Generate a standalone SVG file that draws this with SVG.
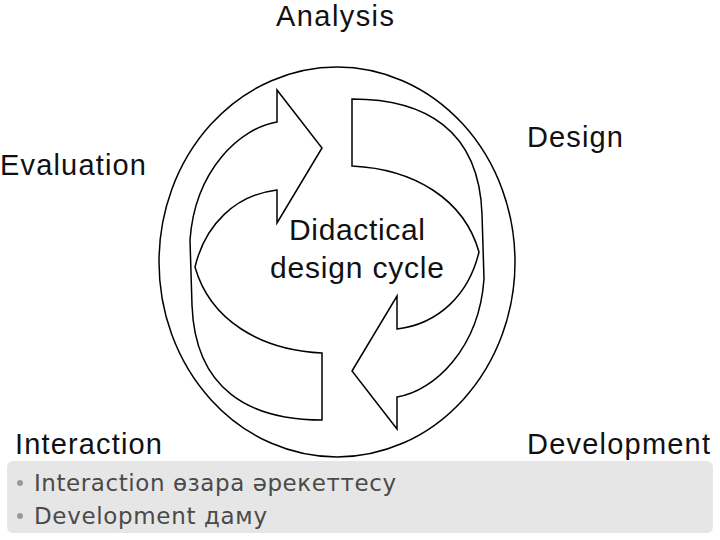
<svg xmlns="http://www.w3.org/2000/svg" width="720" height="540" viewBox="0 0 720 540">
<style>
.l{font-family:"Liberation Sans",Arial,sans-serif;font-size:29px;fill:#111}
.c{font-size:30px}
.s{fill:#fff;stroke:#000;stroke-width:1.5}
.b{font-family:"DejaVu Sans",sans-serif;font-size:23px;fill:#4a4a4a}
</style>
<rect width="720" height="540" fill="#fff"/>
<g id="bg"><rect x="7" y="461" width="706" height="72" rx="6" fill="#e6e6e6"/></g>
<g id="circle"><ellipse class="s" cx="337" cy="262" rx="178" ry="195"/></g>
<g id="connectors">
<path id="arrowL" class="s" d="M322,420 C250,420 195,390 192,305 L190,240 C195,170 240,128 277,122 L277,90 L322,148 L277,223 L277,190 C235,195 205,225 195,267 C210,320 260,350 322,353 Z"/>
<use href="#arrowL" transform="rotate(180 337 259.5)"/>
</g>
<g id="center"><text class="l c" x="357" y="240" text-anchor="middle" textLength="136">Didactical</text><text class="l c" x="357" y="278" text-anchor="middle" textLength="174">design cycle</text></g>
<g id="analysis"><text class="l" x="335" y="26" text-anchor="middle" textLength="118">Analysis</text></g>
<g id="design"><text class="l" x="527" y="147" textLength="96">Design</text></g>
<g id="evaluation"><text class="l" x="0" y="175" textLength="146">Evaluation</text></g>
<g id="interaction"><text class="l" x="15" y="454" textLength="147">Interaction</text></g>
<g id="development"><text class="l" x="527" y="454" textLength="183">Development</text></g>
<g id="notes">
<circle cx="20" cy="483" r="3" fill="#999"/><text class="b" x="34" y="491" textLength="362">Interaction өзара әрекеттесу</text>
<circle cx="20" cy="516" r="3" fill="#999"/><text class="b" x="34" y="524" textLength="233">Development даму</text>
</g>
</svg>
